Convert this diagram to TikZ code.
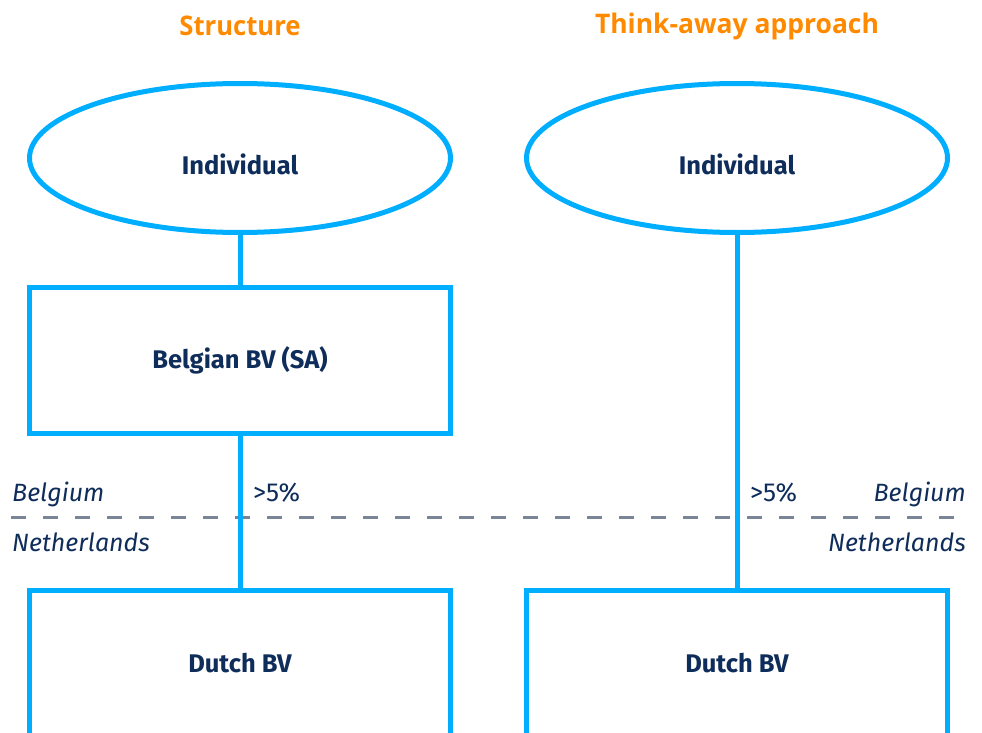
\documentclass[tikz,border=0pt]{standalone}
\usepackage{fontspec}
\setmainfont{Fira Sans}
\newfontfamily\titlefont{Open Sans}
\usetikzlibrary{shapes.geometric}
\definecolor{linkblue}{HTML}{00AEFF}
\definecolor{navy}{HTML}{0F2D5A}
\definecolor{headorange}{HTML}{FF8A00}
\definecolor{bordergray}{HTML}{7A8497}
\tikzset{
  entitytext/.style={font=\fontsize{25.5}{30}\selectfont\bfseries, text=navy, inner sep=0pt},
  entity/.style={draw=linkblue, line width=5pt, fill=white, entitytext},
  person/.style={entity, ellipse, minimum width=421pt, minimum height=149pt},
  company/.style={entity, rectangle, minimum width=421pt, minimum height=146pt},
  link/.style={draw=linkblue, line width=5pt},
  heading/.style={font=\titlefont\fontsize{27}{30}\selectfont\bfseries, text=headorange, inner sep=0pt},
  country/.style={font=\fontsize{25}{29}\selectfont\itshape, text=navy, inner sep=0pt},
  share/.style={font=\fontsize{26}{30}\selectfont, text=navy, inner sep=0pt},
  border/.style={draw=bordergray, line width=3pt, dash pattern=on 15pt off 17pt}
}
\begin{document}
\begin{tikzpicture}[x=1pt, y=-1pt]
\clip (0,0) rectangle (982,733);
\fill[white] (0,0) rectangle (982,733);

% headings
\node[heading] (h1) at (240,26) {\scalebox{0.95}[1]{Structure}};
\node[heading] (h2) at (737,26) {\scalebox{0.98}[1]{Think-away approach}};

% border between the two countries
\coordinate (bl) at (11,517);
\coordinate (br) at (970,517);
\draw[border] (bl) -- (br);

% left: actual structure
\node[person, label={[entitytext, yshift=-6pt]center:Individual}] (ind1) at (240,158) {};
\node[company] (bel) at (240,360) {Belgian BV (SA)};
\node[company] (dut1) at (240,663.5) {Dutch BV};
\draw[link] (ind1) -- (bel);
\draw[link] (bel) -- (dut1);

% right: holding company thought away
\node[person, label={[entitytext, yshift=-6pt]center:Individual}] (ind2) at (737,158) {};
\node[company] (dut2) at (737,663.5) {Dutch BV};
\draw[link] (ind2) -- (dut2);

% labels
\node[country, anchor=base west] (be1) at (12,501) {Belgium};
\node[country, anchor=base west] (nl1) at (12,551) {Netherlands};
\node[share, anchor=base west] (p1) at (253,501) {>5\%};
\node[share, anchor=base west] (p2) at (750,501) {>5\%};
\node[country, anchor=base east] (be2) at (966,501) {Belgium};
\node[country, anchor=base east] (nl2) at (966,551) {Netherlands};
\end{tikzpicture}
\end{document}
